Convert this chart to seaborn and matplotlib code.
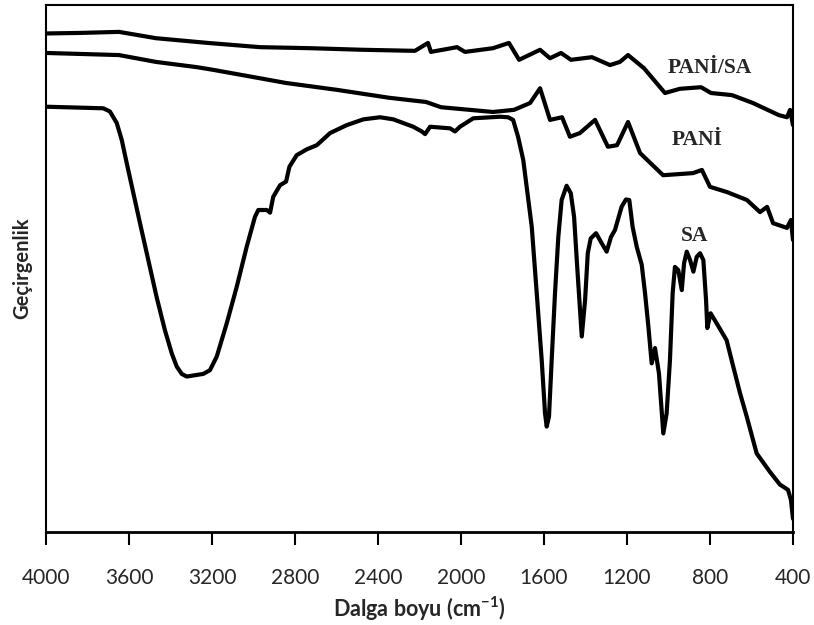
import matplotlib
matplotlib.use("Agg")
import matplotlib.pyplot as plt
import seaborn as sns
import pandas as pd

# Wavenumber (cm-1) and transmittance (arbitrary, 0-100)
pani_sa_w = [4000, 3836, 3648, 3470, 3219, 2969, 2723, 2472, 2222, 2159, 2145, 2019, 1981, 1846,
             1769, 1720, 1619, 1571, 1518, 1470, 1369, 1282, 1234, 1195, 1118, 1017, 945, 843,
             795, 694, 593, 468, 429, 414, 400]
pani_sa_t = [94.6, 94.7, 94.9, 93.7, 92.8, 92.0, 91.8, 91.5, 91.3, 92.8, 91.1, 92.0, 91.1, 91.8,
             92.8, 89.6, 91.5, 89.9, 90.9, 89.6, 90.1, 88.6, 89.2, 90.5, 88.0, 83.3, 84.1, 84.4,
             83.3, 82.9, 81.4, 79.1, 78.7, 80.1, 77.2]

pani_w = [4000, 3648, 3470, 3272, 3195, 2969, 2843, 2598, 2347, 2169, 2096, 1846, 1745, 1667,
          1619, 1571, 1513, 1475, 1427, 1354, 1292, 1248, 1195, 1137, 1026, 882, 839, 800,
          718, 622, 559, 525, 496, 429, 410, 400]
pani_t = [90.9, 90.5, 89.2, 88.2, 87.7, 86.1, 85.2, 83.9, 82.4, 81.6, 80.6, 79.7, 80.1, 81.4,
          84.2, 78.2, 78.7, 75.0, 75.7, 78.2, 73.1, 73.4, 77.8, 71.9, 67.7, 68.1, 68.7, 65.5,
          64.5, 63.0, 60.7, 61.7, 58.6, 57.7, 59.2, 55.4]

sa_w = [4000, 3724, 3692, 3659, 3635, 3611, 3579, 3547, 3507, 3467, 3427, 3394, 3370, 3346,
        3322, 3242, 3210, 3177, 3129, 3081, 3033, 2993, 2977, 2936, 2920, 2905, 2872, 2843,
        2827, 2792, 2744, 2695, 2631, 2551, 2471, 2390, 2326, 2230, 2189, 2173, 2149, 2053,
        2029, 2005, 1941, 1812, 1773, 1749, 1725, 1700, 1659, 1635, 1611, 1595, 1587, 1576,
        1563, 1547, 1531, 1515, 1491, 1471, 1455, 1439, 1418, 1402, 1389, 1375, 1349, 1322,
        1298, 1277, 1258, 1226, 1205, 1189, 1173, 1153, 1129, 1113, 1097, 1081, 1065, 1046,
        1025, 1009, 993, 980, 969, 953, 936, 925, 912, 896, 880, 864, 848, 832, 819, 813,
        797, 768, 720, 688, 655, 623, 575, 511, 463, 424, 410, 400]
sa_t = [80.7, 80.4, 79.8, 77.6, 74.4, 70.0, 64.3, 58.6, 51.6, 44.6, 38.3, 33.9, 31.4, 30.0,
        29.5, 30.0, 30.7, 33.3, 39.6, 46.5, 54.1, 59.8, 61.1, 61.1, 60.6, 63.6, 65.8, 66.5,
        69.3, 71.5, 72.6, 73.4, 75.7, 77.2, 78.3, 78.7, 78.3, 76.9, 76.0, 75.5, 76.9, 76.6,
        76.0, 76.9, 78.5, 78.8, 78.7, 78.2, 75.0, 70.6, 57.9, 45.3, 32.6, 22.5, 20.0, 21.9,
        32.6, 45.3, 56.0, 63.0, 65.7, 64.3, 59.8, 49.7, 37.1, 44.0, 52.9, 55.7, 56.7, 54.8,
        53.2, 56.0, 57.3, 61.7, 63.1, 63.0, 57.9, 54.1, 50.7, 45.3, 39.0, 32.0, 34.9, 30.1,
        18.7, 22.5, 32.6, 45.3, 50.3, 49.7, 45.9, 51.0, 53.2, 51.6, 49.4, 52.2, 52.9, 51.6,
        44.0, 38.7, 41.5, 39.6, 36.4, 31.4, 26.3, 21.9, 14.9, 11.4, 9.0, 8.0, 6.1, 2.5]

series_names = ["PANİ/SA", "PANİ", "SA"]
label_pos_w = [800, 863, 877]
label_pos_t = [88.0, 74.4, 56.2]
xticks = [4000, 3600, 3200, 2800, 2400, 2000, 1600, 1200, 800, 400]

df = pd.concat([
    pd.DataFrame({"w": pani_sa_w, "t": pani_sa_t, "s": series_names[0]}),
    pd.DataFrame({"w": pani_w, "t": pani_t, "s": series_names[1]}),
    pd.DataFrame({"w": sa_w, "t": sa_t, "s": series_names[2]}),
])

sns.set_style("white")
plt.rcParams["font.family"] = ["Lato", "DejaVu Sans"]
plt.rcParams["mathtext.fontset"] = "custom"
plt.rcParams["mathtext.rm"] = "Lato"
plt.rcParams["mathtext.bf"] = "Lato:bold"

fig = plt.figure(figsize=(8.14, 6.25), dpi=100)
ax = fig.add_axes([46 / 814, 1 - 532 / 625, 747 / 814, 527 / 625])

for name in series_names:
    sub = df[df["s"] == name]
    sns.lineplot(data=sub, x="w", y="t", ax=ax, color="black", linewidth=3.0,
                 estimator=None, sort=False, legend=False,
                 solid_joinstyle="round", solid_capstyle="round")

for name, xw, yt in zip(series_names, label_pos_w, label_pos_t):
    ax.text(xw, yt, name, ha="center", va="center", fontsize=15.5, fontweight="bold",
            family="Liberation Serif")

ax.set_xlim(4000, 400)
ax.set_ylim(0, 100)
ax.set_xticks(xticks)
ax.set_xticklabels([str(v) for v in xticks], fontsize=15)
ax.set_yticks([])
ax.tick_params(axis="x", direction="out", length=9, width=1.5, color="black", pad=17,
               bottom=True)
for sp in ax.spines.values():
    sp.set_color("black")
    sp.set_linewidth(1.5)
ax.spines["bottom"].set_linewidth(2.0)

ax.set_xlabel(r"Dalga boyu (cm$^{\mathbf{-1}}$)", fontsize=15.5, fontweight="bold", labelpad=5)
ax.set_ylabel("Geçirgenlik", fontsize=14.5, fontweight="bold", labelpad=10)

fig.savefig("out.png", dpi=100)
